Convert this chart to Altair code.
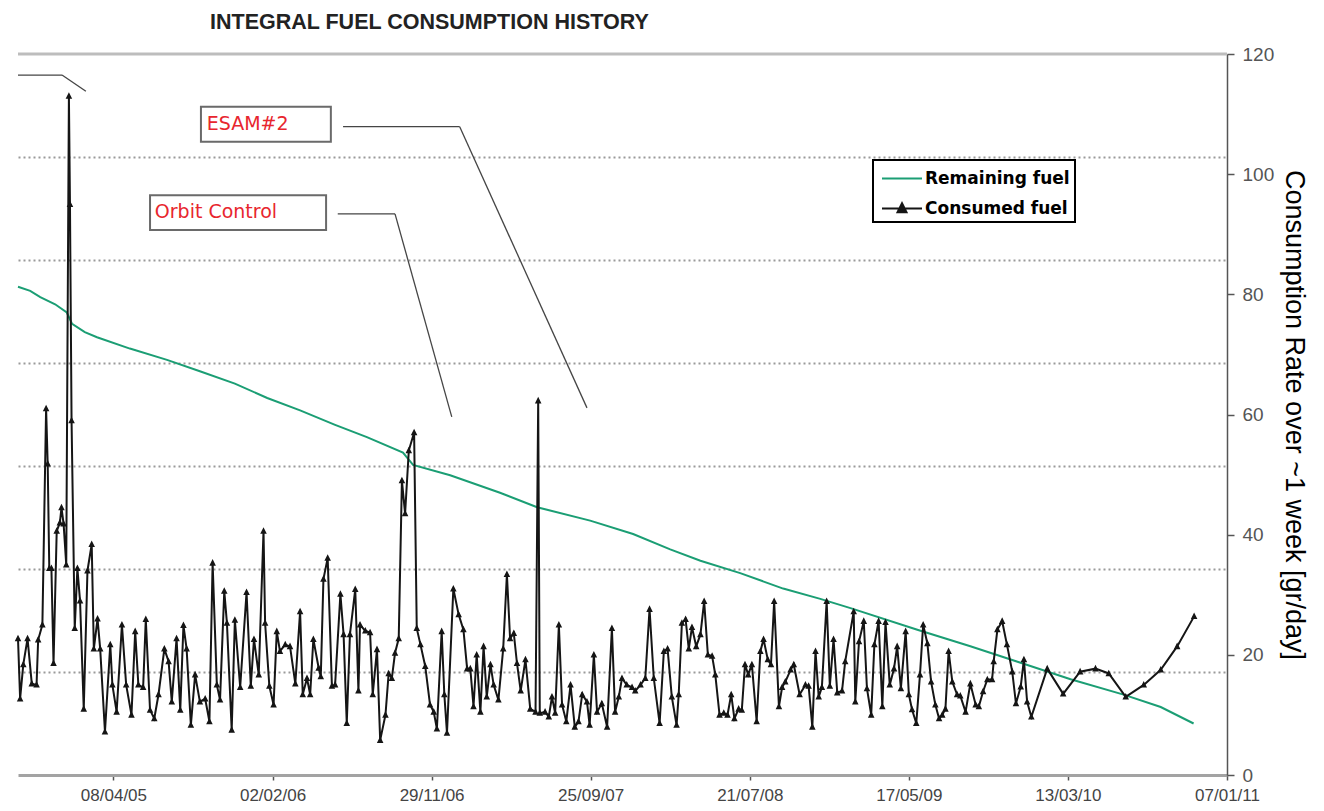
import altair as alt
import pandas as pd

# ---------------- data ----------------
START = "2004-10-10"          # left edge of the visible plot area
END = "2011-01-07"            # right edge of the plot area

# Consumed fuel: days since START, consumption rate [gr/day]
consumed_day = [
    0, 4, 10, 18, 26, 35, 38, 46, 53, 56, 59, 63, 67, 73, 79, 82, 86, 91, 96, 98,
    101, 107, 112, 117, 124, 131, 139, 143, 150, 155, 164, 174, 178, 186, 196, 204, 214, 221, 227, 236,
    241, 249, 257, 265, 276, 284, 290, 299, 306, 312, 318, 326, 334, 343, 353, 361, 367, 375, 381, 389,
    394, 403, 409, 419, 431, 439, 445, 454, 463, 466, 474, 482, 488, 494, 504, 513, 523, 532, 537, 545,
    551, 557, 567, 571, 576, 584, 592, 598, 608, 614, 620, 626, 636, 642, 645, 655, 664, 669, 677, 683,
    693, 699, 705, 711, 718, 724, 730, 737, 747, 752, 759, 768, 777, 784, 790, 799, 804, 809, 821, 831,
    840, 847, 853, 859, 865, 872, 878, 884, 891, 897, 906, 915, 922, 928, 935, 941, 948, 957, 966, 976,
    981, 984, 994, 1001, 1007, 1013, 1020, 1026, 1034, 1042, 1050, 1057, 1064, 1073, 1078, 1086, 1092, 1101, 1111, 1120,
    1126, 1133, 1139, 1148, 1158, 1164, 1174, 1183, 1191, 1199, 1210, 1218, 1225, 1233, 1242, 1246, 1252, 1259, 1265, 1271,
    1279, 1287, 1294, 1301, 1309, 1315, 1323, 1331, 1338, 1345, 1351, 1359, 1365, 1371, 1377, 1384, 1393, 1400, 1406, 1414,
    1420, 1426, 1435, 1441, 1447, 1457, 1463, 1474, 1485, 1491, 1498, 1504, 1510, 1516, 1525, 1531, 1538, 1545, 1554, 1560,
    1576, 1579, 1586, 1595, 1601, 1609, 1615, 1623, 1630, 1636, 1644, 1652, 1658, 1665, 1674, 1680, 1686, 1694, 1701, 1707,
    1715, 1722, 1730, 1737, 1743, 1749, 1755, 1762, 1771, 1777, 1787, 1796, 1806, 1812, 1820, 1828, 1837, 1840, 1847, 1856,
    1865, 1875, 1882, 1891, 1897, 1903, 1911, 1941, 1971, 2003, 2032, 2057, 2089, 2123, 2155, 2186, 2218,
]
consumed_rate = [
    22.7, 12.7, 18.4, 22.7, 15.2, 15.0, 22.5, 25.0, 61.0, 51.8, 34.4, 34.4, 18.6, 40.6, 42.0, 44.5, 41.8, 35.0, 113.0, 95.0,
    59.0, 24.4, 34.4, 29.0, 11.0, 34.0, 38.4, 21.0, 26.0, 21.0, 7.2, 21.7, 15.0, 10.5, 25.0, 15.0, 10.0, 23.9, 15.0, 14.6,
    25.9, 10.8, 9.4, 13.4, 21.0, 18.9, 12.2, 22.7, 10.8, 24.9, 21.0, 8.3, 16.7, 12.2, 12.7, 8.9, 35.3, 15.0, 12.5, 30.6,
    25.3, 7.5, 25.8, 14.6, 30.4, 14.8, 22.6, 16.7, 40.6, 25.3, 14.8, 11.7, 23.9, 20.6, 21.7, 21.4, 15.2, 27.2, 13.4, 16.1,
    13.4, 22.6, 17.8, 16.4, 32.6, 36.1, 14.8, 15.0, 30.1, 23.4, 8.6, 23.4, 30.9, 14.0, 25.0, 24.0, 23.7, 13.4, 20.9, 5.8,
    10.0, 16.9, 16.1, 20.3, 22.7, 49.0, 43.5, 54.0, 57.0, 24.4, 21.7, 18.1, 11.7, 10.5, 7.7, 23.9, 13.4, 7.0, 31.0, 26.7,
    24.2, 17.7, 17.7, 11.4, 20.0, 10.5, 21.4, 13.0, 18.4, 15.0, 12.5, 21.0, 33.4, 22.7, 23.6, 18.6, 14.0, 19.2, 11.0, 10.5,
    62.3, 10.3, 10.5, 9.7, 13.0, 10.3, 25.0, 11.7, 8.9, 15.0, 8.0, 8.9, 13.4, 12.2, 8.3, 20.0, 10.5, 11.9, 8.0, 24.4,
    10.5, 13.0, 16.1, 15.0, 14.6, 14.0, 15.0, 16.1, 27.6, 16.1, 8.6, 20.6, 21.0, 13.0, 8.3, 13.4, 25.3, 25.9, 21.0, 24.6,
    21.4, 23.4, 28.9, 20.0, 19.8, 16.7, 10.0, 10.3, 10.0, 13.4, 9.4, 11.0, 10.8, 18.4, 16.7, 18.4, 8.9, 20.6, 22.6, 19.2,
    18.4, 28.9, 11.4, 14.6, 15.5, 17.5, 18.4, 13.4, 15.0, 14.8, 8.0, 20.6, 13.0, 14.6, 28.9, 14.8, 22.6, 13.7, 14.0, 18.9,
    27.2, 12.2, 22.2, 25.6, 14.4, 10.0, 21.7, 25.6, 11.4, 25.4, 15.0, 17.7, 21.4, 14.4, 23.9, 13.4, 10.9, 8.6, 16.7, 25.0,
    21.9, 15.5, 11.7, 9.4, 10.0, 11.0, 20.6, 15.5, 13.4, 13.2, 10.5, 15.2, 11.7, 11.4, 13.9, 15.9, 15.9, 18.9, 24.2, 25.6,
    21.7, 17.2, 11.9, 14.7, 19.2, 12.2, 9.7, 17.7, 13.5, 17.2, 17.7, 16.9, 13.0, 15.0, 17.5, 21.4, 26.4,
]

# Remaining fuel: days since START, remaining fuel [kg] (left axis, 0-70, cropped in the original)
remaining_day = [
    0, 23, 42, 70, 92, 102, 126, 149, 211, 281, 343, 409, 470, 532, 598, 658, 726, 745,
    815, 909, 979, 1079, 1160, 1230, 1287, 1362, 1443, 1513, 1570, 1696, 1796, 1885, 1985, 2085, 2155, 2217,
]
remaining_kg = [
    47.4, 47.0, 46.4, 45.7, 44.9, 43.8, 43.0, 42.5, 41.4, 40.3, 39.2, 38.0, 36.6, 35.4, 34.0, 32.8, 31.3, 30.1,
    29.1, 27.4, 26.0, 24.7, 23.4, 21.9, 20.8, 19.6, 18.1, 17.1, 16.2, 14.1, 12.5, 11.0, 9.3, 7.8, 6.6, 5.0,
]

tick_dates = ["2005-04-08", "2006-02-02", "2006-11-29", "2007-09-25",
              "2008-07-21", "2009-05-17", "2010-03-13", "2011-01-07"]
rate_ticks = [0, 20, 40, 60, 80, 100, 120]
kg_grid = [10, 20, 30, 40, 50, 60]

series_names = ["Remaining fuel", "Consumed fuel"]

# Call-out annotations (in data coordinates: days since START, rate)
box_label = ["ESAM#2", "Orbit Control"]
box_day0 = [345, 249]
box_day1 = [590, 581]
box_top = [111.2, 96.5]
box_bottom = [105.4, 90.7]
text_day = [356, 258]
text_rate = [108.4, 93.7]

seg_day0 = [613, 833, 603, 711, 0, 83]
seg_day1 = [833, 1073, 711, 818, 83, 128]
seg_rate0 = [107.9, 107.9, 93.4, 93.4, 116.5, 116.5]
seg_rate1 = [107.9, 61.1, 93.4, 59.6, 116.5, 113.8]

# ---------------- helpers ----------------
GREEN = "#1b9e74"
BLACK = "#151515"
RED = "#e8262e"


def to_dates(days):
    idx = pd.Timestamp(START) + pd.to_timedelta(days, unit="D")
    return list(idx.strftime("%Y-%m-%d"))


def dt(s):
    t = pd.Timestamp(s)
    return alt.DateTime(year=t.year, month=t.month, date=t.day, utc=True)


consumed_df = pd.DataFrame({
    "date": to_dates(consumed_day), "rate": consumed_rate, "series": "Consumed fuel"})
remaining_df = pd.DataFrame({
    "date": to_dates(remaining_day), "kg": remaining_kg, "series": "Remaining fuel"})
box_df = pd.DataFrame({
    "date": to_dates(box_day0), "date2": to_dates(box_day1),
    "rate": box_top, "rate2": box_bottom})
text_df = pd.DataFrame({"date": to_dates(text_day), "rate": text_rate, "label": box_label})
seg_df = pd.DataFrame({
    "date": to_dates(seg_day0), "date2": to_dates(seg_day1),
    "rate": seg_rate0, "rate2": seg_rate1})
top_df = pd.DataFrame({"kg": [70]})

# ---------------- scales & axes ----------------
x_scale = alt.Scale(type="utc", domain=[dt(START), dt(END)])
x_axis = alt.Axis(
    values=[dt(d) for d in tick_dates],
    labelExpr="utcFormat(datum.value, '%d/%m/%y')",
    labelFont="Liberation Sans", labelFontSize=17, labelColor="#444",
    labelPadding=7, labelFlush=False, labelOverlap=False,
    tickSize=5, tickColor="#555", tickWidth=1.5,
    domainColor="#a3a3a3", domainWidth=3, grid=False, title=None,
)
X = alt.X("date:T", scale=x_scale, axis=x_axis, title=None)

rate_scale = alt.Scale(domain=[0, 120], nice=False, zero=True)
rate_axis = alt.Axis(
    orient="right", values=rate_ticks,
    title="Consumption Rate over ~1 week [gr/day]",
    titleFont="Liberation Sans", titleFontSize=27, titleFontWeight="normal",
    titleColor="black", titlePadding=6,
    labelFont="Liberation Sans", labelFontSize=19, labelColor="#555", labelPadding=8,
    tickSize=7, tickColor="#555", tickWidth=1.5,
    domainColor="#555", domainWidth=1.5, grid=False,
)
Y_RATE = alt.Y("rate:Q", scale=rate_scale, axis=rate_axis)

kg_scale = alt.Scale(domain=[0, 70], nice=False, zero=True)
kg_axis = alt.Axis(
    orient="left", values=kg_grid, labels=False, ticks=False, domain=False,
    grid=True, gridDash=[2, 3], gridColor="#9a9a9a", gridWidth=2, title=None,
)
Y_KG = alt.Y("kg:Q", scale=kg_scale, axis=kg_axis)

LINE_PATH = "M-1.6,0H1.6"
LINE_TRI_PATH = "M-1.6,0H1.6M0,-0.42L0.36,0.3L-0.36,0.3Z"

legend = alt.Legend(
    title=None, orient="none", legendX=855, legendY=106,
    labelFont="DejaVu Sans", labelFontWeight="bold", labelFontSize=17, labelColor="black",
    labelLimit=400, labelOffset=9.5, symbolOffset=10.5, symbolSize=625,
    symbolStrokeWidth=2, padding=5, rowPadding=8,
    strokeColor="black", fillColor="white",
)
series_scale = alt.Scale(domain=series_names, range=[GREEN, BLACK])
shape_scale = alt.Scale(domain=series_names, range=[LINE_PATH, LINE_TRI_PATH])

# ---------------- layers ----------------
top_rule = alt.Chart(top_df).mark_rule(color="#bdbdbd", strokeWidth=3).encode(y=Y_KG)

green_line = alt.Chart(remaining_df).mark_line(strokeWidth=2).encode(
    x=X, y=Y_KG,
    stroke=alt.Stroke("series:N", scale=series_scale, legend=legend),
)

boxes = alt.Chart(box_df).mark_rect(fill="white", stroke="#6a6a6a", strokeWidth=2).encode(
    x=X, x2="date2:T", y=Y_RATE, y2="rate2:Q")

leaders = alt.Chart(seg_df).mark_rule(color="#454545", strokeWidth=1.3).encode(
    x=X, x2="date2:T", y=Y_RATE, y2="rate2:Q")

texts = alt.Chart(text_df).mark_text(
    align="left", baseline="middle", font="DejaVu Sans", fontSize=19, color=RED
).encode(x=X, y=Y_RATE, text="label:N")

consumed_line = alt.Chart(consumed_df).mark_line(strokeWidth=2).encode(
    x=X, y=Y_RATE,
    stroke=alt.Stroke("series:N", scale=series_scale, legend=legend),
)

consumed_pts = alt.Chart(consumed_df).mark_point(filled=True, opacity=1, size=330).encode(
    x=X, y=Y_RATE,
    fill=alt.Fill("series:N", scale=series_scale, legend=legend),
    shape=alt.Shape("series:N", scale=shape_scale, legend=legend),
)

left_layer = alt.layer(top_rule, green_line)
right_layer = alt.layer(boxes, leaders, texts, consumed_line, consumed_pts)

chart = (
    alt.layer(left_layer, right_layer)
    .resolve_scale(y="independent")
    .properties(
        width=1209, height=721,
        autosize=alt.AutoSizeParams(type="none"),
        padding={"left": 10, "top": 46, "right": 89, "bottom": 36},
        title=alt.TitleParams(
            "INTEGRAL FUEL CONSUMPTION  HISTORY", anchor="start", frame="group",
            dx=192, offset=-5, baseline="alphabetic",
            font="Liberation Sans", fontSize=21.5, fontWeight="bold", color="#222",
        ),
    )
    .configure_view(stroke=None)
    .configure_legend(strokeWidth=2)
)

chart.save("out.html", embed_options={"renderer": "svg", "actions": False})
